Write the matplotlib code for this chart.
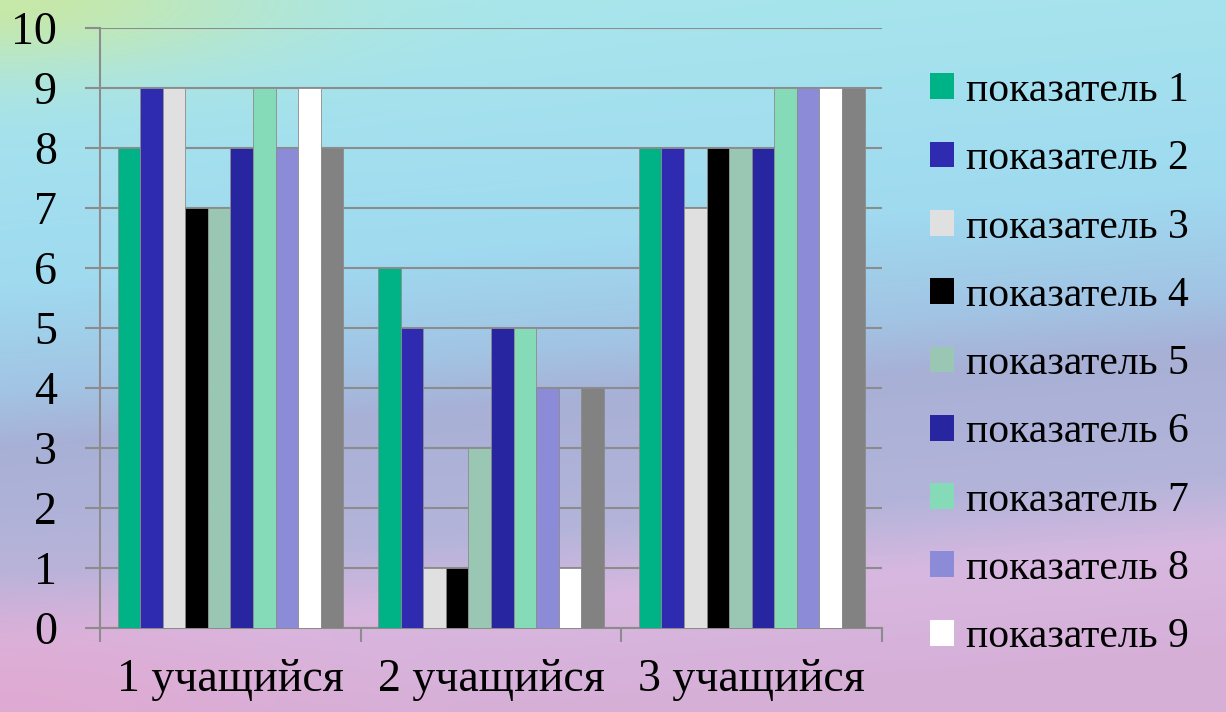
import numpy as np
import matplotlib.pyplot as plt
from matplotlib.colors import LinearSegmentedColormap
from matplotlib.patches import Patch
from matplotlib.font_manager import FontProperties

# --- DADOS ---
categorias = ["1 учащийся", "2 учащийся", "3 учащийся"]
series = ["показатель 1", "показатель 2", "показатель 3", "показатель 4", "показатель 5",
          "показатель 6", "показатель 7", "показатель 8", "показатель 9", "показатель 10"]
valores = [
    [8, 6, 8],
    [9, 5, 8],
    [9, 1, 7],
    [7, 1, 8],
    [7, 3, 8],
    [8, 5, 8],
    [9, 5, 9],
    [8, 4, 9],
    [9, 1, 9],
    [8, 4, 9],
]
cores = ["#00b386", "#2e2bb0", "#e0e0e0", "#000000", "#99c7b3",
         "#2725a0", "#85dbb8", "#8b8bd8", "#ffffff", "#828282"]
y_ticks = list(range(0, 11))

serif = "/usr/share/fonts/truetype/liberation/LiberationSerif-Regular.ttf"
fonte_eixo = FontProperties(fname=serif, size=33)
fonte_leg = FontProperties(fname=serif, size=30)

fig = plt.figure(figsize=(12.26, 7.12), dpi=100)

# --- FUNDO (gradiente) ---
bg = fig.add_axes([0, 0, 1, 1], zorder=-10)
h, w = 356, 613
yy, xx = np.mgrid[0:1:h * 1j, 0:1:w * 1j]
t = np.clip(yy + 0.14 * xx - 0.05, 0, 1)
cmap_bg = LinearSegmentedColormap.from_list("bg", [
    (0.00, "#a8e6ec"), (0.35, "#9fdaf0"),
    (0.50, "#a2c4e4"), (0.58, "#a8b0d6"), (0.76, "#b4b4da"),
    (0.86, "#d8b8e0"), (1.00, "#d6b0d8")])
img = cmap_bg(t)[..., :3]
# mancha verde no canto superior esquerdo
verde = np.array([0.78, 0.91, 0.66])
wv = np.exp(-((xx / 0.22) ** 2 + (yy / 0.10) ** 2))[..., None]
img = img * (1 - wv) + verde * wv
# rosa no canto inferior esquerdo
rosa = np.array([0.88, 0.66, 0.82])
wr = np.exp(-((xx / 0.25) ** 2 + ((1 - yy) / 0.15) ** 2))[..., None] * 0.8
img = img * (1 - wr) + rosa * wr
bg.imshow(img, aspect="auto", extent=[0, 1, 0, 1])
bg.set_axis_off()

# --- GRÁFICO ---
ax = fig.add_axes([0.0816, 0.118, 0.6378, 0.8427])
ax.patch.set_alpha(0)

n = len(series)
largura = 0.0866
x = np.arange(len(categorias))
for i in range(n):
    ax.bar(x + (i - (n - 1) / 2) * largura, valores[i], largura,
           color=cores[i], edgecolor="#8c8c8c", linewidth=0.6, zorder=3)

ax.set_xlim(-0.5, 2.5)
ax.set_ylim(0, 10)
ax.set_yticks(y_ticks)
ax.set_yticklabels([str(v) for v in y_ticks], fontproperties=fonte_eixo)
ax.yaxis.grid(True, color="#8c8c8c", linewidth=1.5, zorder=1)
ax.tick_params(axis="y", length=11, width=1.5, color="#8c8c8c", pad=20)

ax.set_xticks([-0.5, 0.5, 1.5, 2.5])
ax.set_xticklabels([])
ax.tick_params(axis="x", which="major", length=10, width=1.5, color="#8c8c8c")
ax.set_xticks(x, minor=True)
ax.set_xticklabels(categorias, minor=True, fontproperties=fonte_eixo)
ax.tick_params(axis="x", which="minor", length=0, pad=22)

for s in ["top", "right"]:
    ax.spines[s].set_visible(False)
for s in ["left", "bottom"]:
    ax.spines[s].set_color("#8c8c8c")
    ax.spines[s].set_linewidth(1.5)

# legenda (só 9 itens cabem)
handles = [Patch(facecolor=cores[i], label=series[i]) for i in range(9)]
leg = fig.legend(handles=handles, loc="upper left", bbox_to_anchor=(0.745, 0.923),
                 frameon=False, prop=fonte_leg, handlelength=0.575, handleheight=0.575,
                 handletextpad=0.29, labelspacing=0.715, borderaxespad=0)

fig.savefig("out.png", dpi=100)
